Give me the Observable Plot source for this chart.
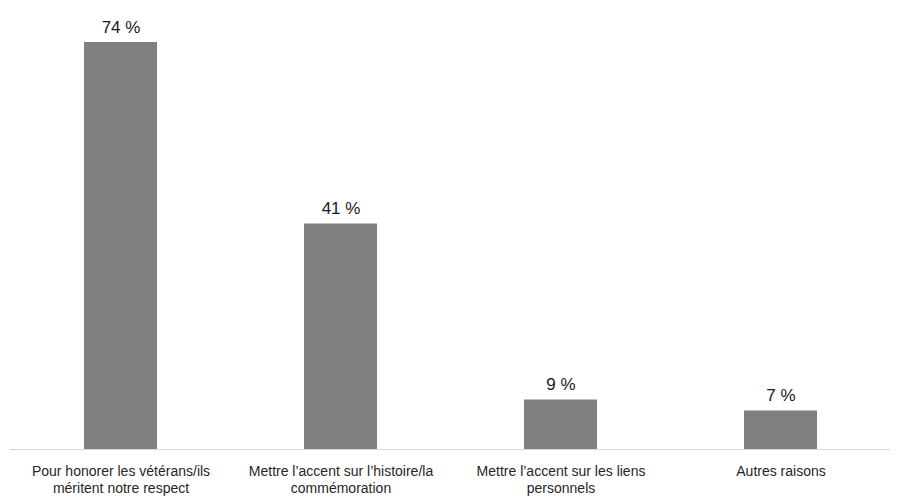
<!DOCTYPE html>
<html>
<head>
<meta charset="utf-8">
<script src="https://cdn.jsdelivr.net/npm/d3@7"></script>
<script src="https://cdn.jsdelivr.net/npm/@observablehq/plot@0.6"></script>
<style>
  body { margin: 0; background: #fff; }
</style>
</head>
<body>
<div id="chart"></div>
<script>
const categories = [
  "Pour honorer les vétérans/ils\nméritent notre respect",
  "Mettre l’accent sur l’histoire/la\ncommémoration",
  "Mettre l’accent sur les liens\npersonnels",
  "Autres raisons"
];
const values = [74, 41, 9, 7];
const valueLabels = ["74 %", "41 %", "9 %", "7 %"];

const data = categories.map((c, i) => ({cat: c, value: values[i], label: valueLabels[i]}));

const chart = Plot.plot({
  width: 900,
  height: 500,
  marginLeft: 10,
  marginRight: 10,
  marginTop: 9,
  marginBottom: 51,
  style: {fontFamily: "Liberation Sans, Arial, sans-serif", background: "#fff"},
  x: {domain: categories, paddingInner: 0.67, paddingOuter: 0.335, label: null},
  y: {domain: [0, 80], axis: null},
  marks: [
    Plot.barY(data, {x: "cat", y: "value", fill: "#808080"}),
    Plot.ruleY([0], {stroke: "#d9d9d9", strokeWidth: 1}),
    Plot.text(data, {x: "cat", y: "value", text: "label", dy: -15, fontSize: 17, fill: "#1a1a1a"}),
    Plot.axisX({tickSize: 0, tickPadding: 14, fontSize: 14, lineHeight: 1.25, fill: "#262626", label: null})
  ]
});
document.getElementById("chart").appendChild(chart);
</script>
</body>
</html>
